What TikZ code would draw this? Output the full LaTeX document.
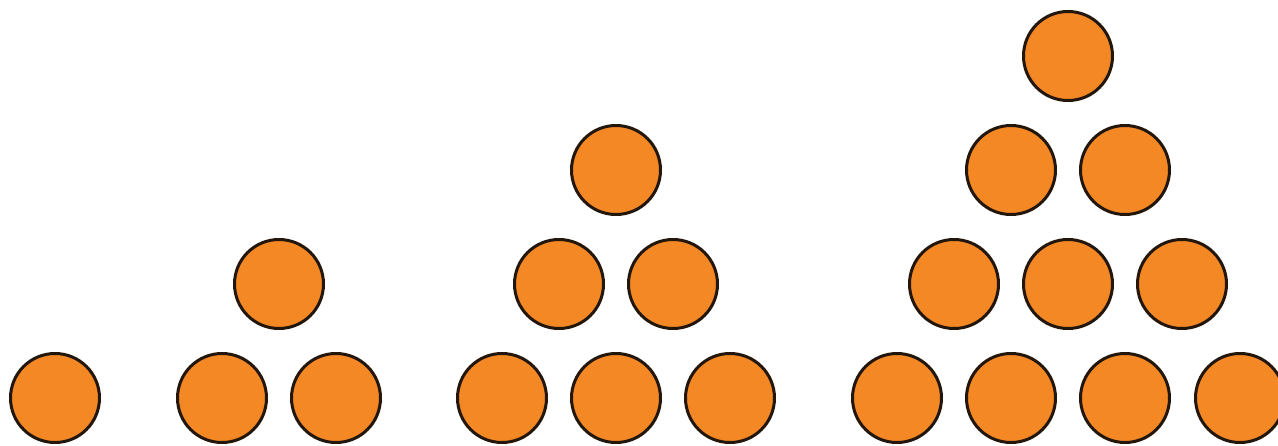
\documentclass[tikz,border=0pt]{standalone}
\usepackage{tikz}
\definecolor{ballfill}{RGB}{243,136,36}
\definecolor{ballline}{RGB}{35,22,12}
\begin{document}
\begin{tikzpicture}[x=1pt,y=-1pt,
  ball/.style={circle,draw=ballline,fill=ballfill,line width=3pt,minimum size=89pt,inner sep=0pt}]
\useasboundingbox (0,0) rectangle (1278,445);
\clip (0,0) rectangle (1278,445);
\fill[white] (0,0) rectangle (1278,445);
% group 1
\node[ball] (a1) at (55,398) {};
% group 2
\node[ball] (b1) at (222,398) {};
\node[ball] (b2) at (336,398) {};
\node[ball] (b3) at (279,284) {};
% group 3
\node[ball] (c1) at (502,398) {};
\node[ball] (c2) at (616,398) {};
\node[ball] (c3) at (730,398) {};
\node[ball] (c4) at (559,284) {};
\node[ball] (c5) at (673,284) {};
\node[ball] (c6) at (616,170) {};
% group 4
\node[ball] (d1) at (897,398) {};
\node[ball] (d2) at (1011,398) {};
\node[ball] (d3) at (1125,398) {};
\node[ball] (d4) at (1240,398) {};
\node[ball] (d5) at (954,284) {};
\node[ball] (d6) at (1068,284) {};
\node[ball] (d7) at (1182,284) {};
\node[ball] (d8) at (1011,170) {};
\node[ball] (d9) at (1125,170) {};
\node[ball] (d10) at (1068,56) {};
\end{tikzpicture}
\end{document}
